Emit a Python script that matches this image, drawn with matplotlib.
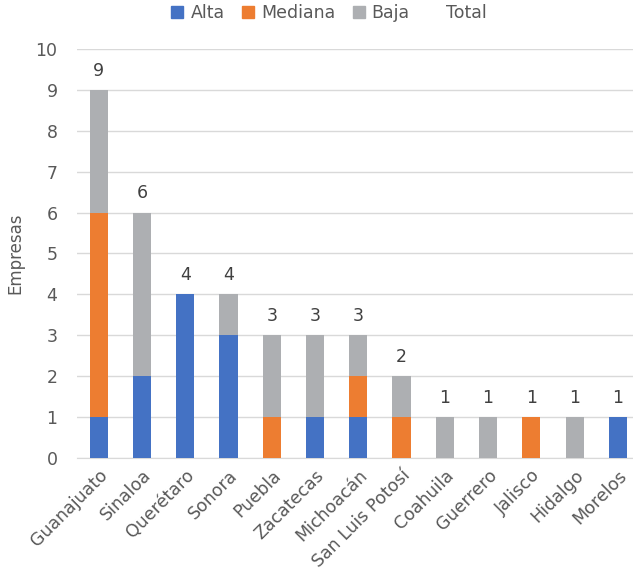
import matplotlib
matplotlib.use("Agg")
import matplotlib.pyplot as plt
from matplotlib.patches import Patch
import numpy as np

estados = ["Guanajuato", "Sinaloa", "Querétaro", "Sonora", "Puebla", "Zacatecas",
           "Michoacán", "San Luis Potosí", "Coahuila", "Guerrero", "Jalisco",
           "Hidalgo", "Morelos"]
alta = [1, 2, 4, 3, 0, 1, 1, 0, 0, 0, 0, 0, 1]
mediana = [5, 0, 0, 0, 1, 0, 1, 1, 0, 0, 1, 0, 0]
baja = [3, 4, 0, 1, 2, 2, 1, 1, 1, 1, 0, 1, 0]
total = [9, 6, 4, 4, 3, 3, 3, 2, 1, 1, 1, 1, 1]

plt.rcParams['font.family'] = ['DejaVu Sans']
gray = "#595959"

fig = plt.figure(figsize=(6.33, 5.77), dpi=100)
W, H = 633, 577
ax = fig.add_axes([77 / W, (577 - 458) / H, (633 - 77) / W, (458 - 49) / H])

x = np.arange(len(estados))
w = 0.42
c_alta, c_med, c_baja = "#4472C4", "#ED7D31", "#ADAFB2"
a = np.array(alta); m = np.array(mediana); b = np.array(baja)
ax.bar(x, a, w, color=c_alta, zorder=3)
ax.bar(x, m, w, bottom=a, color=c_med, zorder=3)
ax.bar(x, b, w, bottom=a + m, color=c_baja, zorder=3)

for xi, t in zip(x, total):
    ax.text(xi, t + 0.25, str(t), ha="center", va="bottom", fontsize=12.5, color="#404040")

ax.set_ylim(0, 10)
ax.set_xlim(-0.5, 12.35)
ax.set_yticks(range(0, 11))
ax.yaxis.grid(True, color="#D9D9D9", linewidth=1, zorder=0)
ax.set_axisbelow(True)
for s in ["top", "right", "left"]:
    ax.spines[s].set_visible(False)
ax.spines["bottom"].set_color("#D9D9D9")
ax.tick_params(axis="both", length=0, colors=gray, labelsize=12.5)
ax.tick_params(axis="y", pad=14)
ax.tick_params(axis="x", pad=6)
ax.set_xticks(x)
ax.set_xticklabels(estados, rotation=45, ha="right", rotation_mode="anchor", fontsize=12.5, color=gray)
ax.set_ylabel("Empresas", color=gray, fontsize=12, labelpad=8)

handles = [Patch(color=c_alta, label="Alta"), Patch(color=c_med, label="Mediana"),
           Patch(color=c_baja, label="Baja"), Patch(color="none", label="Total")]
fig.legend(handles=handles, loc="center", bbox_to_anchor=(0.52, 1 - 13 / H), ncol=4,
           frameon=False, fontsize=12.5, labelcolor=gray, handlelength=0.7, handleheight=0.7,
           handletextpad=0.4, columnspacing=1.0)

fig.savefig("out.png", dpi=100)
